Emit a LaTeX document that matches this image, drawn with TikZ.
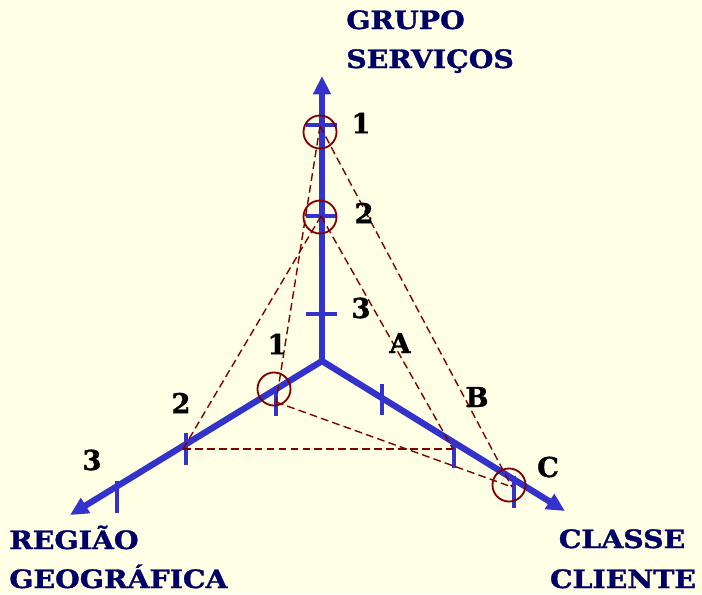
\documentclass[tikz,border=0pt]{standalone}
\usepackage{fontspec}
\usepackage{graphicx}
\setmainfont{DejaVu Serif}[BoldFeatures={FakeBold=1.2}]
\usetikzlibrary{arrows.meta}
\definecolor{axisblue}{RGB}{51,51,204}
\definecolor{navytext}{RGB}{0,0,102}
\definecolor{dashred}{RGB}{128,0,0}
\definecolor{paper}{RGB}{255,255,230}
\newcommand{\widecaps}[1]{\scalebox{1.12}[1]{#1}}
\begin{document}
\begin{tikzpicture}[x=0.025cm,y=-0.025cm,
  axis/.style={line width=4.5pt,axisblue},
  tick/.style={line width=2.6pt,axisblue},
  link/.style={dashred,line width=1pt,dash pattern=on 5.5pt off 3pt},
  hit/.style={draw=dashred,line width=1.3pt,circle,minimum size=23.5pt,inner sep=0pt},
  axlabel/.style={font=\fontsize{18}{24}\selectfont\bfseries,text=navytext,inner sep=0pt},
  num/.style={font=\fontsize{19.5}{24}\selectfont\bfseries,inner sep=0pt}]
  \useasboundingbox (0,0) rectangle (702,594);
  \fill[paper] (0,0) rectangle (702,594);
  % axes
  \coordinate (o) at (322,361);
  \coordinate (gtip) at (322,76);
  \coordinate (rtip) at (70,515);
  \coordinate (ctip) at (565,511);
  \draw[axis,-{Triangle[length=13pt,width=12pt]}] (o) -- (gtip);
  \draw[axis,{Triangle[length=13pt,width=12pt]}-{Triangle[length=13pt,width=12pt]},line join=round] (rtip) -- (o) -- (ctip);
  % ticks
  \draw[tick] (306,125) -- (337,125);
  \draw[tick] (306,216) -- (337,216);
  \draw[tick] (306,314) -- (337,314);
  \draw[tick] (276,386) -- (276,416);
  \draw[tick] (186,433) -- (186,465);
  \draw[tick] (117,481) -- (117,513);
  \draw[tick] (382,384) -- (382,415);
  \draw[tick] (454,440) -- (454,468);
  \draw[tick] (514,476) -- (514,508);
  % chosen points
  \coordinate (g1) at (320,126);
  \coordinate (g2) at (321,216);
  \coordinate (r1) at (276,402);
  \coordinate (r2) at (183,449);
  \coordinate (cb) at (453,449);
  \coordinate (cc) at (512,487);
  \draw[link] (g1) -- (r1);
  \draw[link] (g1) -- (cc);
  \draw[link] (g2) -- (r2);
  \draw[link] (g2) -- (cb);
  \draw[link] (r2) -- (cb);
  \draw[link] (r1) -- (cc);
  \node[hit] (h1) at (320,132) {};
  \node[hit] (h2) at (320,217) {};
  \node[hit] (h3) at (274,389) {};
  \node[hit] (h4) at (509,485) {};
  % axis names
  \node[axlabel,anchor=base west] (grp) at (346,29) {\widecaps{GRUPO}};
  \node[axlabel,anchor=base west] (srv) at (346,68) {\widecaps{SERVIÇOS}};
  \node[axlabel,anchor=base west] (reg) at (9,549) {\widecaps{REGIÃO}};
  \node[axlabel,anchor=base west] (geo) at (9,588) {\widecaps{GEOGRÁFICA}};
  \node[axlabel,anchor=base] (cls) at (622,548) {\widecaps{CLASSE}};
  \node[axlabel,anchor=base] (cli) at (623,588) {\widecaps{CLIENTE}};
  % levels
  \node[num] (g1l) at (361,123) {1};
  \node[num] (g2l) at (364,213) {2};
  \node[num] (g3l) at (361,308) {3};
  \node[num] (r1l) at (277,344) {1};
  \node[num] (r2l) at (181,403) {2};
  \node[num] (r3l) at (92,460) {3};
  \node[num] (cal) at (400,343) {A};
  \node[num] (cbl) at (477,397) {B};
  \node[num] (ccl) at (548,467) {C};
\end{tikzpicture}
\end{document}
